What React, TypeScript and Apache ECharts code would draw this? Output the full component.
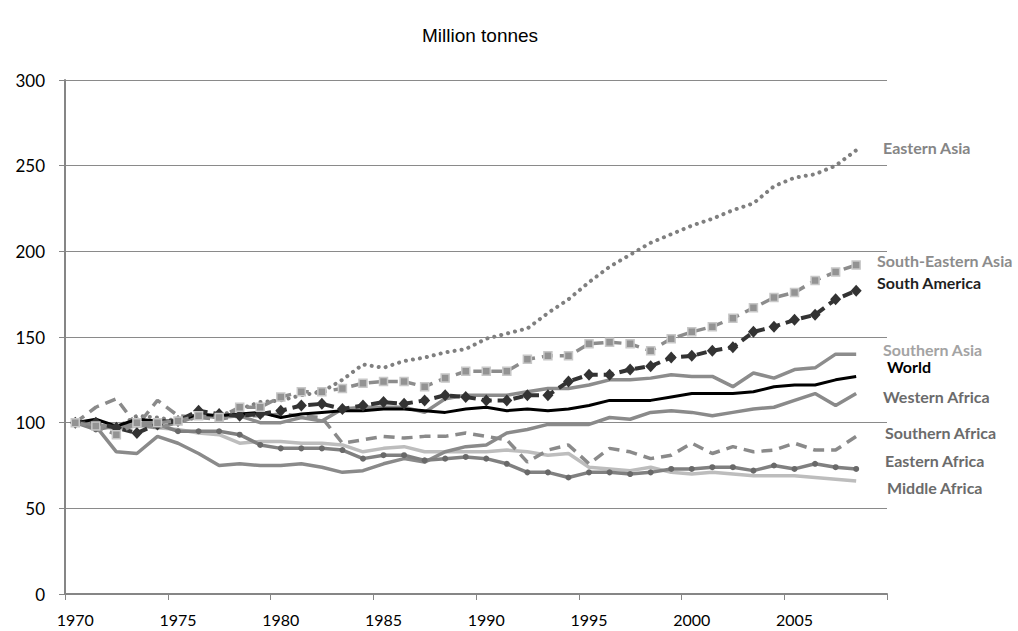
import React, { useEffect, useRef } from "react";
import * as echarts from "echarts";

const years: string[] = [];
for (let y = 1970; y <= 2009; y++) years.push(String(y));

const easternAsia = [100, 99, 97, 104, 103, 101, 103, 104, 108, 112, 113, 116, 118, 125, 134, 132, 136, 138, 141, 143, 149, 152, 155, 164, 172, 182, 191, 198, 205, 210, 215, 219, 224, 228, 238, 243, 245, 250, 259];
const southEasternAsia = [100, 98, 93, 100, 100, 101, 104, 103, 109, 109, 115, 118, 118, 120, 123, 124, 124, 121, 126, 130, 130, 130, 137, 139, 139, 146, 147, 146, 142, 149, 153, 156, 161, 167, 173, 176, 183, 188, 192];
const southAmerica = [100, 100, 97, 94, 99, 101, 107, 105, 104, 105, 107, 110, 111, 108, 110, 112, 111, 113, 116, 115, 113, 113, 116, 116, 124, 128, 128, 131, 133, 138, 139, 142, 144, 153, 156, 160, 163, 172, 177];
const southernAsia = [100, 99, 97, 99, 97, 100, 104, 103, 104, 100, 100, 103, 101, 108, 109, 109, 109, 106, 114, 116, 116, 116, 118, 120, 120, 122, 125, 125, 126, 128, 127, 127, 121, 129, 126, 131, 132, 140, 140];
const world = [100, 102, 98, 102, 101, 101, 105, 104, 105, 106, 103, 105, 106, 107, 107, 108, 108, 107, 106, 108, 109, 107, 108, 107, 108, 110, 113, 113, 113, 115, 117, 117, 117, 118, 121, 122, 122, 125, 127];
const westernAfrica = [100, 98, 83, 82, 92, 88, 82, 75, 76, 75, 75, 76, 74, 71, 72, 76, 79, 77, 83, 86, 87, 94, 96, 99, 99, 99, 103, 102, 106, 107, 106, 104, 106, 108, 109, 113, 117, 110, 117];
const southernAfrica = [100, 109, 114, 98, 113, 104, 103, 102, 104, 104, 105, 104, 103, 88, 90, 92, 91, 92, 92, 94, 92, 90, 77, 84, 87, 76, 85, 83, 79, 81, 88, 82, 86, 83, 84, 88, 84, 84, 92];
const easternAfrica = [100, 96, 98, 99, 99, 95, 95, 95, 93, 87, 85, 85, 85, 84, 79, 81, 81, 78, 79, 80, 79, 76, 71, 71, 68, 71, 71, 70, 71, 73, 73, 74, 74, 72, 75, 73, 76, 74, 73];
const middleAfrica = [100, 99, 96, 98, 97, 96, 94, 93, 88, 89, 89, 88, 88, 87, 83, 85, 86, 83, 83, 83, 83, 84, 83, 81, 82, 74, 73, 72, 74, 71, 70, 71, 70, 69, 69, 69, 68, 67, 66];

const yTicks = [0, 50, 100, 150, 200, 250, 300];

const labels = [
  { text: "Eastern Asia", x: 883, y: 147, color: "#858585" },
  { text: "South-Eastern Asia", x: 877, y: 260, color: "#8c8c8c" },
  { text: "South America", x: 877, y: 282, color: "#1f1f1f" },
  { text: "Southern Asia", x: 883, y: 349, color: "#a3a3a3" },
  { text: "World", x: 887, y: 366, color: "#000000" },
  { text: "Western Africa", x: 883, y: 396, color: "#6b6b6b" },
  { text: "Southern Africa", x: 885, y: 432, color: "#6b6b6b" },
  { text: "Eastern Africa", x: 885, y: 460, color: "#6b6b6b" },
  { text: "Middle Africa", x: 887, y: 487, color: "#6b6b6b" },
];

export default function App() {
  const ref = useRef<HTMLDivElement>(null);
  useEffect(() => {
    if (!ref.current) return;
    const chart = echarts.init(ref.current, null, { renderer: "svg" });
    const base = { type: "line", smooth: false, showSymbol: false, symbol: "none" };
    chart.setOption({
      animation: false,
      backgroundColor: "#ffffff",
      title: {
        text: "Million tonnes",
        left: 475,
        top: 21,
        textAlign: "center",
        textStyle: { fontFamily: "Liberation Sans", fontSize: 19, fontWeight: "normal", color: "#000" },
      },
      grid: { left: 65, right: 131, top: 80, bottom: 37, containLabel: false },
      xAxis: {
        type: "category",
        data: years,
        boundaryGap: true,
        axisLine: { lineStyle: { color: "#868686", width: 2 } },
        axisTick: { show: true, interval: 4, length: 6, lineStyle: { color: "#868686", width: 1 } },
        axisLabel: { interval: 4, margin: 17, fontFamily: "Lato", fontSize: 16, color: "#000" },
        splitLine: { show: false },
      },
      yAxis: {
        type: "value",
        min: 0,
        max: 300,
        interval: 50,
        axisLine: { show: true, lineStyle: { color: "#868686", width: 2 } },
        axisTick: { show: true, length: 6, lineStyle: { color: "#868686", width: 1 } },
        axisLabel: { margin: 20, fontFamily: "Lato", fontSize: 17, color: "#000", formatter: (v: number) => (yTicks.includes(v) ? String(v) : "") },
        splitLine: { show: true, lineStyle: { color: "#8a8a8a", width: 1.2 } },
      },
      series: [
        { ...base, name: "Eastern Asia", data: easternAsia, lineStyle: { color: "#7f7f7f", width: 4, type: [0.1, 7], cap: "round" } },
        { ...base, name: "Middle Africa", data: middleAfrica, lineStyle: { color: "#bdbdbd", width: 3.5 } },
        { ...base, name: "Western Africa", data: westernAfrica, lineStyle: { color: "#8a8a8a", width: 3.5 } },
        { ...base, name: "Southern Africa", data: southernAfrica, lineStyle: { color: "#8a8a8a", width: 3.5, type: [11, 7] } },
        {
          ...base, name: "Eastern Africa", data: easternAfrica, showSymbol: true, symbol: "circle", symbolSize: 6,
          itemStyle: { color: "#696969", borderWidth: 0 }, lineStyle: { color: "#808080", width: 3.5 },
        },
        { ...base, name: "Southern Asia", data: southernAsia, lineStyle: { color: "#8c8c8c", width: 3.5 } },
        { ...base, name: "World", data: world, lineStyle: { color: "#000000", width: 3 } },
        {
          ...base, name: "South America", data: southAmerica, showSymbol: true, symbol: "diamond", symbolSize: [11, 12],
          itemStyle: { color: "#333333", borderWidth: 0 }, lineStyle: { color: "#333333", width: 4, type: [10, 6] },
        },
        {
          ...base, name: "South-Eastern Asia", data: southEasternAsia, showSymbol: true, symbol: "rect", symbolSize: 8,
          itemStyle: { color: "#939393", borderColor: "#c8c8c8", borderWidth: 1.5 }, lineStyle: { color: "#8c8c8c", width: 3.5, type: [11, 7] },
        },
      ],
      graphic: labels.map((l) => ({
        type: "text",
        x: l.x,
        y: l.y,
        style: {
          text: l.text,
          fill: l.color,
          font: "bold 16px Lato",
          textVerticalAlign: "middle",
          verticalAlign: "middle",
        },
      })),
    });
    return () => chart.dispose();
  }, []);
  return <div ref={ref} style={{ position: "fixed", left: 0, top: 0, width: 1018, height: 631 }} />;
}
